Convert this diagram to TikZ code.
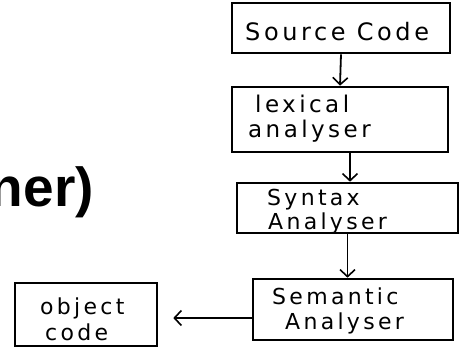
\documentclass[tikz,border=0pt]{standalone}
\usepackage{fontspec}
\setmainfont{DejaVu Sans}
\newfontfamily\headfont{Liberation Sans}
\newfontfamily\handfont[LetterSpace=15]{DejaVu Sans}
\usetikzlibrary{arrows.meta}
\begin{document}
\begin{tikzpicture}[x=1pt,y=-1pt,
  stage/.style={draw, line width=2.6pt, rectangle, inner sep=0pt},
  word/.style={anchor=base west, inner sep=0pt, font=\handfont\fontsize{#1}{#1}\selectfont},
  word/.default=23,
  flow/.style={draw, line width=1.8pt, -{Straight Barb[length=7pt,width=15pt,line width=1.6pt]}}]
\useasboundingbox (0,0) rectangle (461,348);
\fill[white] (0,0) rectangle (461,348);
% heading fragment, cut at the left margin
\begin{scope}
\clip (0,0) rectangle (461,348);
\node[anchor=base east, inner sep=0pt, font=\headfont\bfseries\fontsize{55}{60}\selectfont] (head) at (94,206) {ner)};
\end{scope}
% compiler phases: boxes
\node[stage, minimum width=218pt, minimum height=50pt] (src) at (341,28) {};
\node[stage, minimum width=216pt, minimum height=65pt] (lex) at (340,119.5) {};
\node[stage, minimum width=221pt, minimum height=50pt] (syn) at (347.5,208) {};
\node[stage, minimum width=200pt, minimum height=61pt] (sem) at (353,309.5) {};
\node[stage, minimum width=142pt, minimum height=63pt] (obj) at (86,314.5) {};
% compiler phases: labels
\node[word=24] (srct) at (245,40) {Source Code};
\node[word] (lext1) at (255,112) {lexical};
\node[word] (lext2) at (248,137) {analyser};
\node[word=22] (synt1) at (267,205) {Syntax};
\node[word=22] (synt2) at (268,229) {Analyser};
\node[word=22] (semt1) at (272,304) {Semantic};
\node[word=22] (semt2) at (285,329) {Analyser};
\node[word=22] (objt1) at (40,314) {object};
\node[word=22] (objt2) at (45,340) {code};
% arrows between the phases
\draw[flow] (src.south) -- (lex.north);
\draw[flow] ([xshift=10pt]lex.south) -- ([xshift=10pt]lex.south |- syn.north);
\draw[flow] (syn.south) -- (syn.south |- sem.north);
\draw[flow, shorten >=15pt] ([yshift=-8.5pt]sem.west) -- ([yshift=-8.5pt]sem.west -| obj.east);
\end{tikzpicture}
\end{document}
